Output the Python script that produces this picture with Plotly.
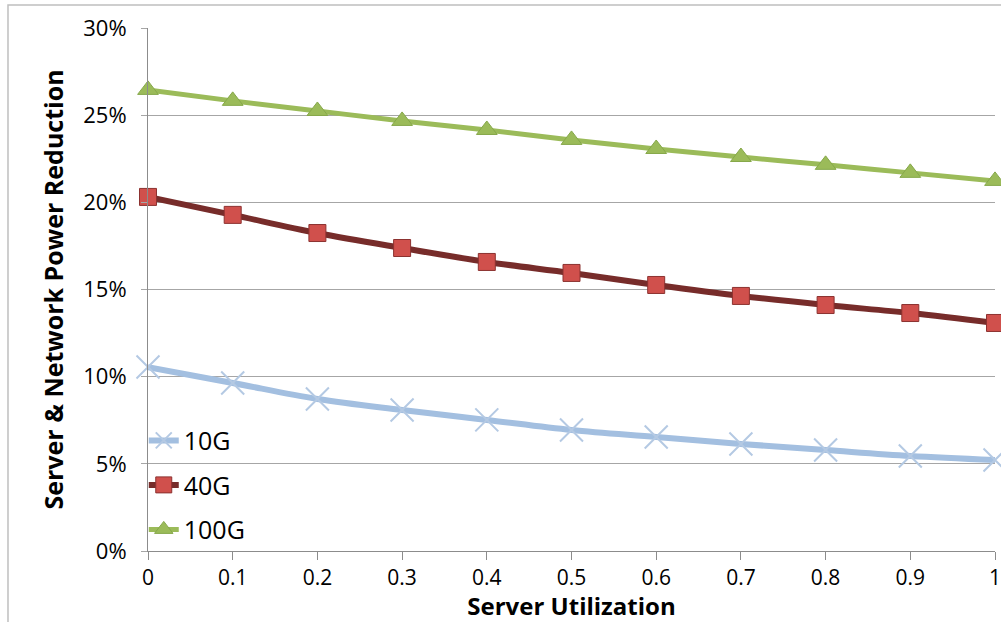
import plotly.graph_objects as go

# Server utilization levels
utilization = [0, 0.1, 0.2, 0.3, 0.4, 0.5, 0.6, 0.7, 0.8, 0.9, 1.0]

# Combined server & network power reduction (fraction) per link speed
reduction_10g = [0.1055, 0.0964, 0.0872, 0.0809, 0.0752, 0.0694, 0.0654, 0.0614, 0.0579, 0.0545, 0.0522]
reduction_40g = [0.2031, 0.1928, 0.1824, 0.1738, 0.1658, 0.1595, 0.1526, 0.1463, 0.1411, 0.1365, 0.1308]
reduction_100g = [0.2645, 0.2582, 0.2524, 0.2467, 0.2415, 0.2358, 0.2306, 0.2260, 0.2215, 0.2169, 0.2123]

x_ticks = [0, 0.1, 0.2, 0.3, 0.4, 0.5, 0.6, 0.7, 0.8, 0.9, 1.0]
x_tick_text = ["0", "0.1", "0.2", "0.3", "0.4", "0.5", "0.6", "0.7", "0.8", "0.9", "1"]
y_ticks = [0, 0.05, 0.10, 0.15, 0.20, 0.25, 0.30]
y_tick_text = ["0%", "5%", "10%", "15%", "20%", "25%", "30%"]

FONT = "Open Sans"

fig = go.Figure()

fig.add_trace(go.Scatter(
    x=utilization, y=reduction_10g, name="10G", mode="lines+markers",
    legendgroup="g10",
    line=dict(color="#a3bfe0", width=6, shape="spline"),
    marker=dict(symbol="x-thin", size=23, line=dict(color="#b4c9e3", width=2)),
    cliponaxis=False,
))
fig.add_trace(go.Scatter(
    x=utilization, y=reduction_40g, name="40G", mode="lines+markers",
    legendgroup="g40",
    line=dict(color="#772c2a", width=6, shape="spline"),
    marker=dict(symbol="square", size=17, color="#d0504c",
                line=dict(color="#8c3230", width=1)),
    cliponaxis=False,
))
fig.add_trace(go.Scatter(
    x=utilization, y=reduction_100g, name="100G", mode="lines+markers",
    legendgroup="g100",
    line=dict(color="#9bbb59", width=5, shape="spline"),
    marker=dict(symbol="triangle-up", size=18, color="#9bbb59",
                line=dict(color="#86a84a", width=1)),
    cliponaxis=False,
))

# Outer chart frame
fig.add_shape(type="rect", xref="paper", yref="paper",
              x0=-0.1653, x1=1.03, y0=-0.16, y1=1.044,
              line=dict(color="#bfbfbf", width=1.5), layer="below")

fig.update_layout(
    width=1001, height=622,
    margin=dict(l=148, r=6, t=28, b=71),
    plot_bgcolor="white", paper_bgcolor="white",
    font=dict(family=FONT, color="black"),
    showlegend=True,
    legend=dict(x=-0.005, y=0.255, xanchor="left", yanchor="top",
                bgcolor="rgba(0,0,0,0)", font=dict(size=25, family=FONT),
                tracegroupgap=9, itemwidth=30, itemsizing="trace"),
    xaxis=dict(
        range=[0, 1], tickvals=x_ticks, ticktext=x_tick_text,
        showgrid=False, zeroline=False, automargin=False,
        showline=True, linecolor="#8c8c8c", linewidth=1,
        ticks="outside", ticklen=8, tickcolor="#8c8c8c",
        tickfont=dict(size=21, family=FONT),
        ticklabeloverflow="allow",
        title=dict(text="<b>Server Utilization</b>", font=dict(size=24, family=FONT), standoff=0),
    ),
    yaxis=dict(
        range=[0, 0.30], tickvals=y_ticks, ticktext=y_tick_text,
        showgrid=True, gridcolor="#a6a6a6", gridwidth=1, zeroline=False, automargin=False,
        showline=True, linecolor="#8c8c8c", linewidth=1,
        ticks="outside", ticklen=6, tickcolor="#a6a6a6",
        tickfont=dict(size=22, family=FONT),
        ticklabelstandoff=10,
        title=dict(text="<b>Server &amp; Network Power Reduction</b>", font=dict(size=25, family=FONT), standoff=12),
    ),
)

fig.write_html("out.html")
